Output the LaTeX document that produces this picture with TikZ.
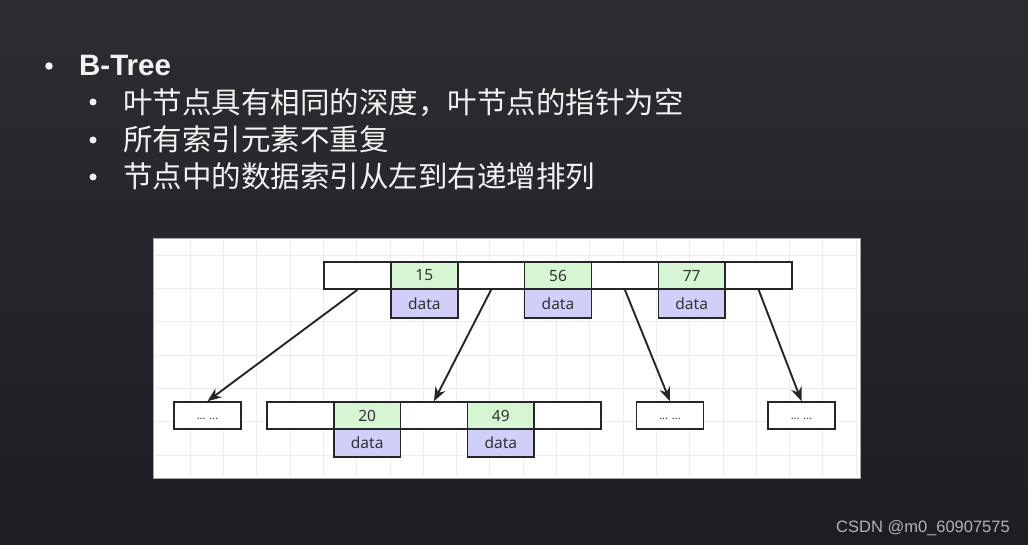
\documentclass[tikz,border=0pt]{standalone}
\usepackage{fontspec}
\setmainfont{Noto Sans}
\newfontfamily\cjk{Noto Sans CJK SC}
\newfontfamily\wmfont{Liberation Sans}
\usetikzlibrary{arrows.meta}

\definecolor{bgtop}{RGB}{44,45,50}
\definecolor{bgbot}{RGB}{29,30,36}
\definecolor{keygreen}{RGB}{214,245,210}
\definecolor{datablue}{RGB}{207,207,250}
\definecolor{edgegray}{RGB}{38,38,38}
\definecolor{slidetext}{RGB}{242,242,242}
\definecolor{gridgray}{RGB}{236,236,238}

\begin{document}
\begin{tikzpicture}[x=1pt,y=-1pt,
    cell/.style={draw=edgegray,line width=1.6pt,fill=white,minimum width=66.8pt,
      minimum height=27pt,inner sep=0pt,font=\fontsize{15.5}{15}\selectfont,text=black!80},
    keycell/.style={cell,fill=keygreen},
    datacell/.style={cell,fill=datablue,minimum height=28.5pt},
    leafbox/.style={cell,font=\fontsize{11}{11}\selectfont},
    link/.style={draw=edgegray,line width=1.9pt,-{Stealth[length=14pt,width=11pt]}},
    bulletdot/.style={circle,fill=slidetext,inner sep=0pt},
    slideline/.style={anchor=base west,inner sep=0pt,text=slidetext,font=\cjk\fontsize{29.5}{30}\selectfont}]

    % background of the slide
    \useasboundingbox (0,0) rectangle (1028,545);
    \shade[top color=bgtop,bottom color=bgbot] (0,0) rectangle (1028,545);

    % bullet list
    \node[bulletdot,minimum size=7.5pt] (b0) at (49,66) {};
    \node[anchor=base west,inner sep=0pt,text=slidetext,font=\wmfont\bfseries\fontsize{29.5}{30}\selectfont] (title) at (79,76) {B-Tree};
    \node[bulletdot,minimum size=7pt] (b1) at (93,102) {};
    \node[bulletdot,minimum size=7pt] (b2) at (93,140) {};
    \node[bulletdot,minimum size=7pt] (b3) at (93,177) {};
    \node[slideline] (l1) at (123,114) {叶节点具有相同的深度，叶节点的指针为空};
    \node[slideline] (l2) at (123,151) {所有索引元素不重复};
    \node[slideline] (l3) at (123,188) {节点中的数据索引从左到右递增排列};

    % white panel with a faint grid
    \fill[white] (153,238) rectangle (860,478);
    \foreach \gx in {190,223.3,...,860} \draw[gridgray,line width=0.6pt] (\gx,240) -- (\gx,476);
    \foreach \gy in {255,288.3,...,478} \draw[gridgray,line width=0.6pt] (155,\gy) -- (858,\gy);
    \draw[gray!70,line width=0.8pt] (153,238) rectangle (860,478);

    % root node
    \node[cell] (t1) at (357.4,275.5) {};
    \node[keycell] (t2) at (424.3,275.5) {15};
    \node[cell] (t3) at (491.1,275.5) {};
    \node[keycell] (t4) at (558,275.5) {56};
    \node[cell] (t5) at (624.9,275.5) {};
    \node[keycell] (t6) at (691.7,275.5) {77};
    \node[cell] (t7) at (758.6,275.5) {};
    \node[datacell] (d15) at (424.3,303.5) {data};
    \node[datacell] (d56) at (558,303.5) {data};
    \node[datacell] (d77) at (691.7,303.5) {data};

    % second level
    \node[leafbox] (leafA) at (207.5,415.5) {\raisebox{-4pt}[0pt][0pt]{... ...}};
    \node[cell] (m1) at (300.4,415.5) {};
    \node[keycell] (m2) at (367.2,415.5) {20};
    \node[cell] (m3) at (434,415.5) {};
    \node[keycell] (m4) at (500.8,415.5) {49};
    \node[cell] (m5) at (567.6,415.5) {};
    \node[datacell] (d20) at (367.2,443) {data};
    \node[datacell] (d49) at (500.8,443) {data};
    \node[leafbox] (leafB) at (670,415.5) {\raisebox{-4pt}[0pt][0pt]{... ...}};
    \node[leafbox] (leafC) at (801.5,415.5) {\raisebox{-4pt}[0pt][0pt]{... ...}};

    % pointers
    \draw[link] (t1.south) -- (leafA.north);
    \draw[link] (t3.south) -- (m3.north);
    \draw[link] (t5.south) -- (leafB.north);
    \draw[link] (t7.south) -- (leafC.north);

    % watermark
    \node[anchor=base west,inner sep=0pt,text=black!30,font=\wmfont\fontsize{16.5}{17}\selectfont] (mark) at (836,532) {CSDN @m0\_60907575};
\end{tikzpicture}
\end{document}
